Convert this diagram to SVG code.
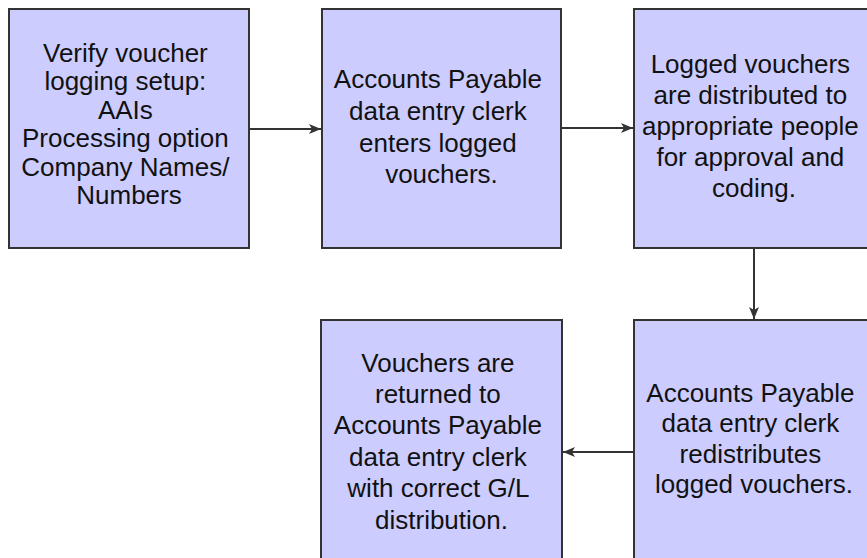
<svg xmlns="http://www.w3.org/2000/svg" width="867" height="558" viewBox="0 0 867 558">
  <style>
    .box { fill: #ccccff; stroke: #333333; stroke-width: 2; }
    .lbl { font-family: "Liberation Sans", Arial, Helvetica, sans-serif; font-size: 26px; fill: #111111; text-anchor: middle; }
    .edge { stroke: #333333; stroke-width: 2; fill: none; marker-end: url(#head); }
  </style>
  <defs>
    <marker id="head" markerWidth="12" markerHeight="10" refX="12" refY="5" orient="auto" markerUnits="userSpaceOnUse">
      <path d="M0,0 L12,5 L0,10 L3,5 Z" fill="#333333"/>
    </marker>
  </defs>
  <rect width="867" height="558" fill="#ffffff"/>

  <g id="connectors">
    <line class="edge" x1="250" y1="129" x2="321" y2="129"/>
    <line class="edge" x1="562" y1="128" x2="633" y2="128"/>
    <line class="edge" x1="754" y1="249" x2="754" y2="319"/>
    <line class="edge" x1="633" y1="452" x2="563" y2="452"/>
  </g>

  <g id="verify-setup">
    <rect class="box" x="9" y="9" width="240" height="239"/>
    <text class="lbl" x="129">
      <tspan x="129" y="62">Verify voucher</tspan>
      <tspan x="129" y="90">logging setup:</tspan>
      <tspan x="129" y="119">AAIs</tspan>
      <tspan x="129" y="147">Processing option</tspan>
      <tspan x="129" y="176">Company Names/</tspan>
      <tspan x="129" y="204">Numbers</tspan>
    </text>
  </g>

  <g id="enter-vouchers">
    <rect class="box" x="322" y="9" width="239" height="239"/>
    <text class="lbl">
      <tspan x="441.5" y="88">Accounts Payable</tspan>
      <tspan x="441.5" y="120">data entry clerk</tspan>
      <tspan x="441.5" y="152">enters logged</tspan>
      <tspan x="441.5" y="183">vouchers.</tspan>
    </text>
  </g>

  <g id="distribute-vouchers">
    <rect class="box" x="634" y="9" width="240" height="239"/>
    <text class="lbl">
      <tspan x="754" y="73">Logged vouchers</tspan>
      <tspan x="754" y="104">are distributed to</tspan>
      <tspan x="754" y="135">appropriate people</tspan>
      <tspan x="754" y="166">for approval and</tspan>
      <tspan x="754" y="197">coding.</tspan>
    </text>
  </g>

  <g id="redistribute-vouchers">
    <rect class="box" x="634" y="320" width="240" height="240"/>
    <text class="lbl">
      <tspan x="754" y="402">Accounts Payable</tspan>
      <tspan x="754" y="432">data entry clerk</tspan>
      <tspan x="754" y="463">redistributes</tspan>
      <tspan x="754" y="493">logged vouchers.</tspan>
    </text>
  </g>

  <g id="return-vouchers">
    <rect class="box" x="321" y="320" width="241" height="240"/>
    <text class="lbl">
      <tspan x="441.5" y="372">Vouchers are</tspan>
      <tspan x="441.5" y="403">returned to</tspan>
      <tspan x="441.5" y="434">Accounts Payable</tspan>
      <tspan x="441.5" y="466">data entry clerk</tspan>
      <tspan x="441.5" y="497">with correct G/L</tspan>
      <tspan x="441.5" y="529">distribution.</tspan>
    </text>
  </g>
</svg>
